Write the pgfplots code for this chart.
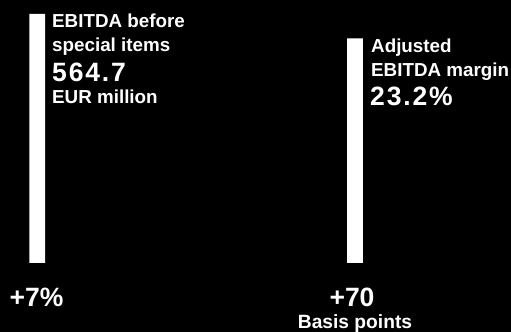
\documentclass[border=0pt]{standalone}
\usepackage{fontspec}
\setmainfont{Liberation Sans}
\newfontfamily\bignum{Liberation Sans}[LetterSpace=7]
\usepackage{pgfplots}
\pgfplotsset{compat=1.18}
\tikzset{
  lbl/.style={anchor=base west, inner sep=0pt, text=white, font=\bfseries\fontsize{18.8bp}{20bp}\selectfont},
  big/.style={anchor=base west, inner sep=0pt, text=white, font=\bignum\bfseries\fontsize{26.5bp}{28bp}\selectfont},
  bot/.style={anchor=base, inner sep=0pt, text=white, font=\bfseries\fontsize{26.5bp}{28bp}\selectfont},
}
\begin{document}
\begin{tikzpicture}
\useasboundingbox (0,0) rectangle (511bp,332bp);
\fill[black] (0,0) rectangle (511bp,332bp);
\begin{axis}[
  at={(0,0)}, anchor=south west,
  scale only axis, width=511bp, height=332bp,
  xmin=0, xmax=511, ymin=-69, ymax=263,
  hide axis, clip=false,
]
\addplot[ybar, bar width=15.7, fill=white, draw=none] coordinates {(37.2,249) (355,224.5)};
% left block
\node[lbl] at (axis cs:52,235) {EBITDA before};
\node[lbl] at (axis cs:52,211) {special items};
\node[big] at (axis cs:52,181) {564.7};
\node[lbl] at (axis cs:52,159) {EUR million};
% right block
\node[lbl] at (axis cs:371,210) {Adjusted};
\node[lbl] at (axis cs:371,186) {EBITDA margin};
\node[big] at (axis cs:370,157) {23.2\%};
% bottom
\node[bot] at (axis cs:36.5,-43.5) {+7\%};
\node[bot] at (axis cs:352,-44) {+70};
\node[anchor=base, inner sep=0pt, text=white, font=\bfseries\fontsize{19.2bp}{20bp}\selectfont] at (axis cs:355,-65.5) {Basis points};
\end{axis}
\end{tikzpicture}
\end{document}
